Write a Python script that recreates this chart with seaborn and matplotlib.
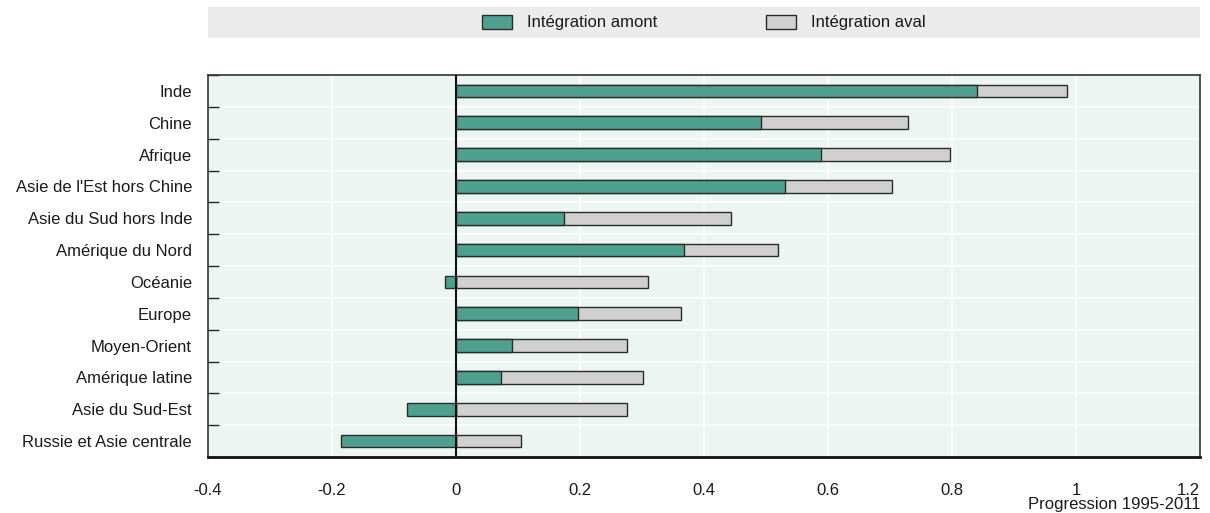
import matplotlib
matplotlib.use("Agg")
import matplotlib.pyplot as plt
import seaborn as sns
import pandas as pd
import numpy as np
from matplotlib.patches import Patch
from matplotlib.ticker import FixedLocator

regions = ["Inde", "Chine", "Afrique", "Asie de l'Est hors Chine", "Asie du Sud hors Inde",
           "Amérique du Nord", "Océanie", "Europe", "Moyen-Orient", "Amérique latine",
           "Asie du Sud-Est", "Russie et Asie centrale"]
amont = [0.840, 0.492, 0.589, 0.530, 0.174, 0.368, -0.017, 0.197, 0.091, 0.072, -0.079, -0.185]
aval = [0.146, 0.237, 0.207, 0.174, 0.269, 0.152, 0.310, 0.166, 0.185, 0.229, 0.276, 0.105]
xticks = [-0.4, -0.2, 0, 0.2, 0.4, 0.6, 0.8, 1, 1.2]
xticklabels = ["-0.4", "-0.2", "0", "0.2", "0.4", "0.6", "0.8", "1", "1.2"]

GREEN = "#4fa08f"
GRAY = "#d0d0d0"
EDGE = "#2b2b2b"
BG = "#edf5f3"
TXT = "#1a1a1a"

sns.set_theme(style="white")
plt.rcParams['font.family'] = ['Liberation Sans Narrow', 'Liberation Sans', 'DejaVu Sans']
plt.rcParams['text.color'] = TXT
plt.rcParams['xtick.color'] = TXT
plt.rcParams['ytick.color'] = TXT
plt.rcParams['axes.labelcolor'] = TXT

df = pd.DataFrame({"region": regions, "amont": amont, "aval": aval})
df["total"] = df["amont"].clip(lower=0) + df["aval"]

fig = plt.figure(figsize=(12.1, 5.13), dpi=100)
ax = fig.add_axes([208/1210, 1-457/513, 992/1210, 382/513])
ax.set_facecolor(BG)

sns.barplot(data=df, y="region", x="total", orient="h", color=GRAY, width=0.4,
            edgecolor=EDGE, linewidth=1, ax=ax, saturation=1, zorder=3)
sns.barplot(data=df, y="region", x="amont", orient="h", color=GREEN, width=0.4,
            edgecolor=EDGE, linewidth=1, ax=ax, saturation=1, zorder=4)

n = len(regions)
ax.set_xlim(-0.4, 1.2)
ax.set_ylim(n - 0.5, -0.5)
ax.set_xticks(xticks)
ax.set_xticklabels(xticklabels, fontsize=12)
ax.get_xticklabels()[-1].set_ha("right")
ax.yaxis.set_minor_locator(FixedLocator(np.arange(-0.5, n, 1.0)))
ax.tick_params(axis="y", which="major", length=0, labelsize=12, pad=11.5)
ax.tick_params(axis="y", which="minor", length=8, direction="in", width=1, color="#222222", left=True)
ax.tick_params(axis="x", which="major", length=6, direction="in", width=1, color="#222222", labelsize=12, pad=19)
ax.grid(axis="x", which="major", color="white", linewidth=1.2, zorder=1)
ax.grid(axis="y", which="minor", color="white", linewidth=1.2, zorder=1)
ax.set_axisbelow(True)
ax.axvline(0, color="#111111", linewidth=1.5, zorder=5)

for s in ["top", "right", "left"]:
    ax.spines[s].set_color("#333333")
    ax.spines[s].set_linewidth(1.2)
ax.spines["bottom"].set_color("#111111")
ax.spines["bottom"].set_linewidth(2)

ax.set_ylabel("")
ax.set_xlabel("Progression 1995-2011", fontsize=12, ha="right", va="top")
ax.xaxis.set_label_coords(1.0, -0.105)

# legend band
band = fig.add_axes([208/1210, 1-38/513, 992/1210, 31/513])
band.set_facecolor("#ebebeb")
band.set_xticks([]); band.set_yticks([])
for s in band.spines.values():
    s.set_visible(False)
handles = [Patch(facecolor=GREEN, edgecolor=EDGE, label="Intégration amont"),
           Patch(facecolor=GRAY, edgecolor=EDGE, label="Intégration aval")]
band.legend(handles=handles, loc="center", ncol=2, frameon=False, fontsize=12,
            handlelength=1.8, handleheight=0.9, columnspacing=6.5, handletextpad=0.9)

fig.savefig("out.png", dpi=100, facecolor="white")
